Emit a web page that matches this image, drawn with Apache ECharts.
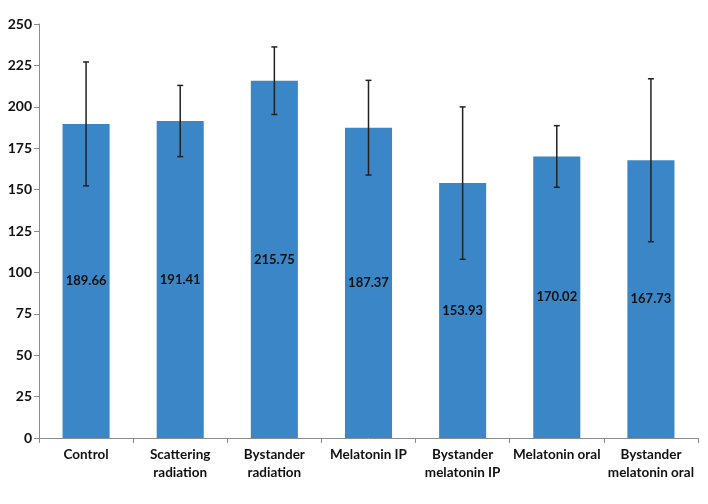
<!DOCTYPE html>
<html>
<head>
<meta charset="utf-8">
<script src="https://cdn.jsdelivr.net/npm/echarts@6/dist/echarts.min.js"></script>
<style>html,body{margin:0;padding:0;background:#fff}#c{width:708px;height:504px}</style>
</head>
<body>
<div id="c"></div>
<script>
const categories = ["Control", "Scattering\nradiation", "Bystander\nradiation", "Melatonin IP", "Bystander\nmelatonin IP", "Melatonin oral", "Bystander\nmelatonin oral"];
const means = [189.66, 191.41, 215.75, 187.37, 153.93, 170.02, 167.73];
const errors = [37.4, 21.5, 20.4, 28.6, 46.0, 18.6, 49.2];
const yTicks = [0, 25, 50, 75, 100, 125, 150, 175, 200, 225, 250];

const FONT = 'Lato';
const chart = echarts.init(document.getElementById('c'), null, {renderer: 'canvas'});
const errData = means.map((m, i) => [i, m - errors[i], m + errors[i]]);
chart.setOption({
  animation: false,
  grid: {left: 39, right: 10, top: 24, bottom: 66, containLabel: false},
  xAxis: {
    type: 'category', data: categories,
    axisLine: {lineStyle: {color: '#8c8c8c', width: 1}},
    axisTick: {show: true, alignWithLabel: false, length: 5, lineStyle: {color: '#8c8c8c'}},
    axisLabel: {color: '#111', fontFamily: FONT, fontWeight: 'bold', fontSize: 13.5, lineHeight: 18, margin: 8, interval: 0}
  },
  yAxis: {
    type: 'value', min: yTicks[0], max: yTicks[yTicks.length - 1], interval: 25,
    splitLine: {show: false},
    axisLine: {show: true, lineStyle: {color: '#8c8c8c', width: 1}},
    axisTick: {show: true, length: 5, lineStyle: {color: '#8c8c8c'}},
    axisLabel: {color: '#111', fontFamily: FONT, fontWeight: 'bold', fontSize: 14, margin: 7}
  },
  series: [
    {
      type: 'bar', data: means, barWidth: '50%',
      itemStyle: {color: '#3b86c6'},
      label: {show: true, position: 'inside', color: '#111', fontFamily: FONT, fontWeight: 'bold', fontSize: 13,
        formatter: p => p.value.toFixed(2)}
    },
    {
      type: 'custom', data: errData, z: 10,
      renderItem: function (params, api) {
        const x = api.value(0);
        const lo = api.coord([x, api.value(1)]);
        const hi = api.coord([x, api.value(2)]);
        const w = 3;
        const style = {stroke: '#222', lineWidth: 1.5};
        return {type: 'group', children: [
          {type: 'line', shape: {x1: hi[0], y1: hi[1], x2: lo[0], y2: lo[1]}, style: style},
          {type: 'line', shape: {x1: hi[0] - w, y1: hi[1], x2: hi[0] + w, y2: hi[1]}, style: style},
          {type: 'line', shape: {x1: lo[0] - w, y1: lo[1], x2: lo[0] + w, y2: lo[1]}, style: style}
        ]};
      }
    }
  ]
});
</script>
</body>
</html>
